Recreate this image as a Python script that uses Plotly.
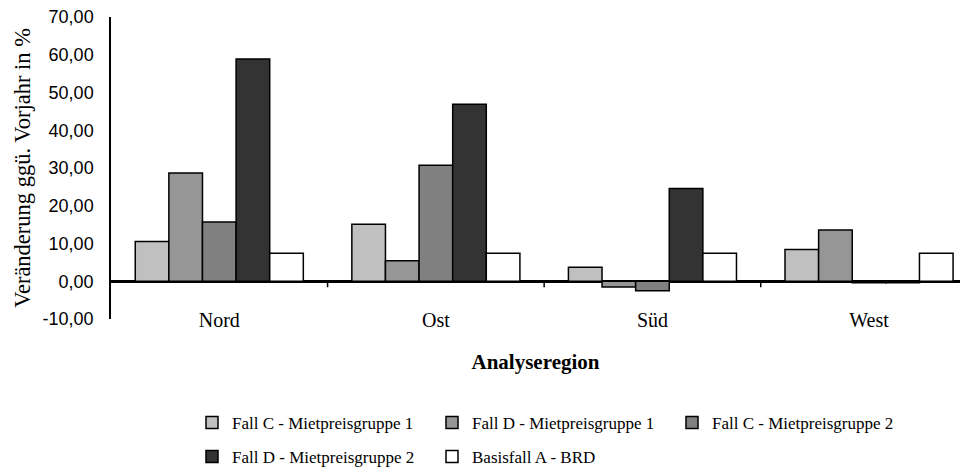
import plotly.graph_objects as go

regions = ["Nord", "Ost", "Süd", "West"]
series_names = [
    "Fall C - Mietpreisgruppe 1",
    "Fall D - Mietpreisgruppe 1",
    "Fall C - Mietpreisgruppe 2",
    "Fall D - Mietpreisgruppe 2",
    "Basisfall A - BRD",
]
fall_c_mpg1 = [10.5, 15.1, 3.7, 8.4]
fall_d_mpg1 = [28.7, 5.4, -1.5, 13.6]
fall_c_mpg2 = [15.7, 30.7, -2.5, -0.4]
fall_d_mpg2 = [58.9, 46.9, 24.6, -0.4]
basisfall_a = [7.4, 7.4, 7.4, 7.4]
series_values = [fall_c_mpg1, fall_d_mpg1, fall_c_mpg2, fall_d_mpg2, basisfall_a]
colors = ["#C0C0C0", "#969696", "#808080", "#333333", "#FFFFFF"]
legend_ids = ["legend", "legend", "legend", "legend2", "legend2"]

y_tick_vals = [-10, 0, 10, 20, 30, 40, 50, 60, 70]
y_tick_text = ["-10,00", "0,00", "10,00", "20,00", "30,00", "40,00", "50,00", "60,00", "70,00"]

fig = go.Figure()
for name, vals, col, lg in zip(series_names, series_values, colors, legend_ids):
    fig.add_trace(go.Bar(
        x=regions, y=vals, name=name, legend=lg,
        marker=dict(color=col, line=dict(color="black", width=1.5)),
    ))

# small tick marks on the zero line at category boundaries
for i in range(len(regions) - 1):
    fig.add_shape(type="line", xref="x", yref="y", x0=i + 0.5, x1=i + 0.5,
                  ysizemode="pixel", yanchor=0, y0=0, y1=-6,
                  line=dict(color="black", width=1.5))

W, H = 969, 471
L, R, T, B = 111, 9, 17, 152

fig.update_layout(
    width=W, height=H,
    margin=dict(l=L, r=R, t=T, b=B),
    paper_bgcolor="white", plot_bgcolor="white",
    barmode="group", bargap=0.224, bargroupgap=0,
    showlegend=True,
    xaxis=dict(
        type="category", categoryorder="array", categoryarray=regions,
        range=[-0.5, 3.42], anchor="free", position=0.043, automargin=False,
        showline=False, showgrid=False, zeroline=False, ticks="",
        tickfont=dict(family="Liberation Serif", size=20, color="black"),
        title=dict(text="<b>Analyseregion</b>", standoff=24,
                   font=dict(family="Liberation Serif", size=21, color="black")),
    ),
    yaxis=dict(
        range=[-10, 70], tickvals=y_tick_vals, ticktext=y_tick_text, automargin=False,
        showline=True, linecolor="black", linewidth=1.5,
        showgrid=False, zeroline=True, zerolinecolor="black", zerolinewidth=2.5,
        ticks="outside", ticklen=12, tickcolor="rgba(0,0,0,0)",
        tickfont=dict(family="Liberation Sans", size=18, color="black"),
        title=dict(text="Veränderung ggü. Vorjahr in %", standoff=6,
                   font=dict(family="Liberation Serif", size=22.5, color="black")),
    ),
    legend=dict(
        orientation="h", xref="container", yref="container",
        x=192 / W, y=1 - 405 / H, xanchor="left", yanchor="top",
        entrywidth=195, entrywidthmode="pixels",
        font=dict(family="Liberation Serif", size=17, color="black"),
        bgcolor="rgba(0,0,0,0)",
    ),
    legend2=dict(
        orientation="h", xref="container", yref="container",
        x=192 / W, y=1 - 439 / H, xanchor="left", yanchor="top",
        entrywidth=195, entrywidthmode="pixels",
        font=dict(family="Liberation Serif", size=17, color="black"),
        bgcolor="rgba(0,0,0,0)",
    ),
)

fig.write_html("out.html", config={"displayModeBar": False},
               post_script="document.body.style.margin='0';document.body.style.overflow='hidden';")
